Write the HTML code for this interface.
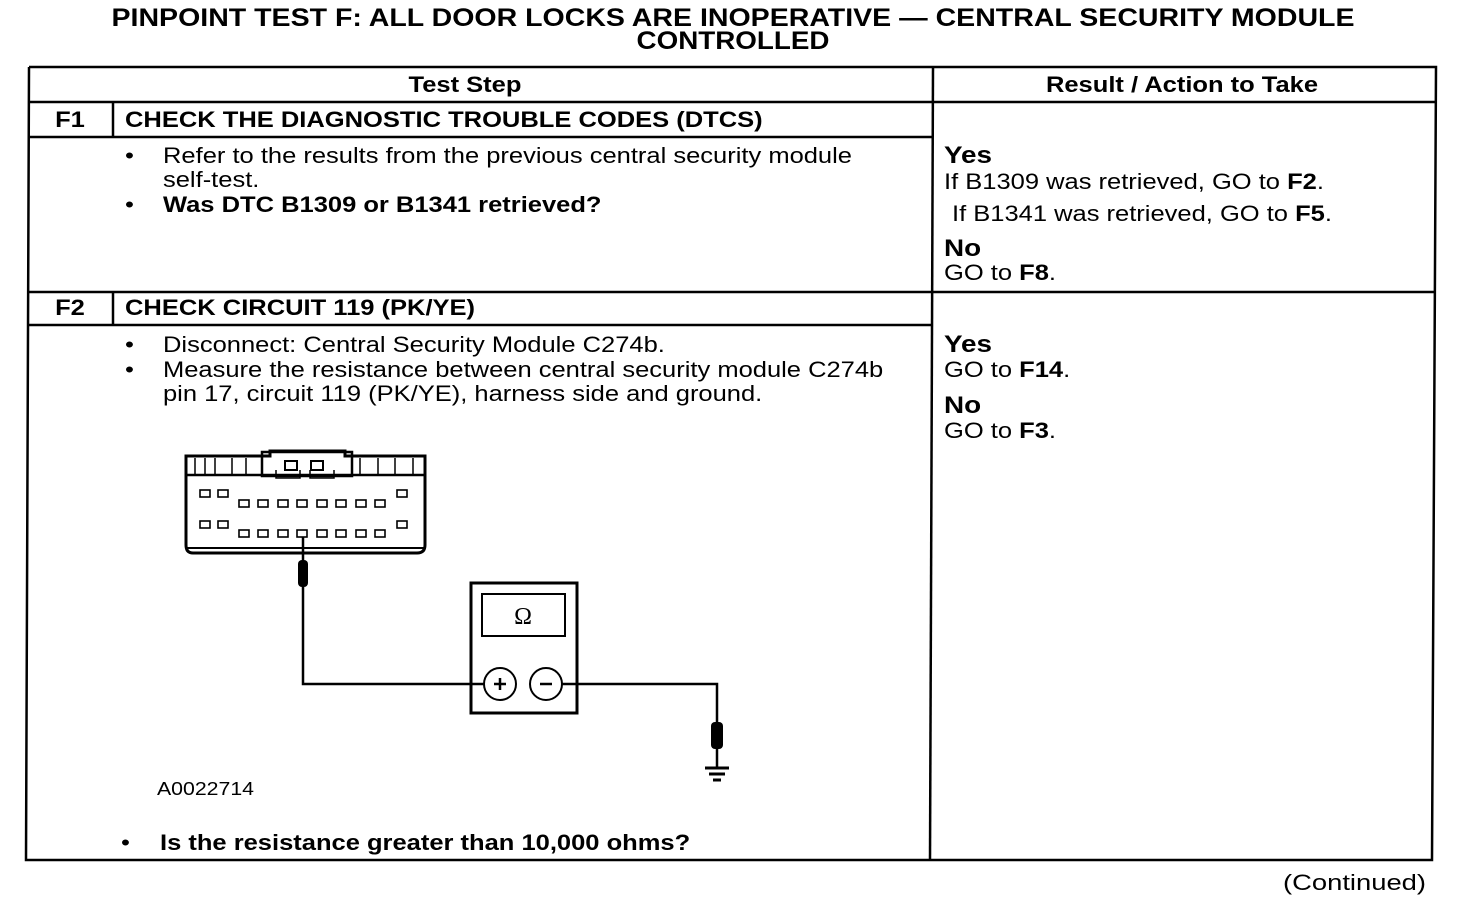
<!DOCTYPE html>
<html><head><meta charset="utf-8"><style>
html,body{margin:0;padding:0;background:#fff;}
svg{display:block;font-family:"Liberation Sans",Arial,sans-serif;}
.b{font-weight:bold;}
</style></head><body>
<svg width="1472" height="910" viewBox="0 0 1472 910" xmlns="http://www.w3.org/2000/svg">
<g fill="#000">
<text x="733" y="26" font-size="25" class="b" text-anchor="middle" textLength="1243" lengthAdjust="spacingAndGlyphs">PINPOINT TEST F: ALL DOOR LOCKS ARE INOPERATIVE — CENTRAL SECURITY MODULE</text>
<text x="733" y="49" font-size="25" class="b" text-anchor="middle" textLength="193" lengthAdjust="spacingAndGlyphs">CONTROLLED</text>
</g>
<g stroke="#000" stroke-width="2.5" fill="none">
<polyline points="29,67 1436,67 1432,860 26,860 29,67"/>
<line x1="29" y1="102" x2="1436" y2="102"/>
<line x1="933" y1="67" x2="930" y2="860"/>
<line x1="29" y1="137" x2="933" y2="137"/>
<line x1="28" y1="292" x2="1434" y2="292"/>
<line x1="28" y1="325" x2="932" y2="325"/>
<line x1="113" y1="102" x2="113" y2="137"/>
<line x1="113" y1="292" x2="113" y2="325"/>
</g>
<g fill="#000" font-size="22" transform="scale(1.16 1)">
<text x="400.86" y="92" class="b" text-anchor="middle">Test Step</text>
<text x="1018.97" y="92" class="b" text-anchor="middle">Result / Action to Take</text>
<text x="60.34" y="127" class="b" text-anchor="middle">F1</text>
<text x="107.76" y="127" class="b">CHECK THE DIAGNOSTIC TROUBLE CODES (DTCS)</text>
<text x="107.76" y="163">•</text>
<text x="140.52" y="163">Refer to the results from the previous central security module</text>
<text x="140.52" y="187">self-test.</text>
<text x="107.76" y="212">•</text>
<text x="140.52" y="212" class="b">Was DTC B1309 or B1341 retrieved?</text>
<text x="813.79" y="163" font-size="24" class="b">Yes</text>
<text x="813.79" y="189">If B1309 was retrieved, GO to <tspan class="b">F2</tspan>.</text>
<text x="820.69" y="221">If B1341 was retrieved, GO to <tspan class="b">F5</tspan>.</text>
<text x="813.79" y="256" font-size="24" class="b">No</text>
<text x="813.79" y="280">GO to <tspan class="b">F8</tspan>.</text>
<text x="60.34" y="315" class="b" text-anchor="middle">F2</text>
<text x="107.76" y="315" class="b">CHECK CIRCUIT 119 (PK/YE)</text>
<text x="107.76" y="352">•</text>
<text x="140.52" y="352">Disconnect: Central Security Module C274b.</text>
<text x="107.76" y="377">•</text>
<text x="140.52" y="377">Measure the resistance between central security module C274b</text>
<text x="140.52" y="401">pin 17, circuit 119 (PK/YE), harness side and ground.</text>
<text x="813.79" y="352" font-size="24" class="b">Yes</text>
<text x="813.79" y="377">GO to <tspan class="b">F14</tspan>.</text>
<text x="813.79" y="413" font-size="24" class="b">No</text>
<text x="813.79" y="438">GO to <tspan class="b">F3</tspan>.</text>
<text x="104.31" y="850">•</text>
<text x="137.93" y="850" class="b">Is the resistance greater than 10,000 ohms?</text>
</g>
<g fill="#000">
<text x="157" y="795" font-size="18" textLength="97" lengthAdjust="spacingAndGlyphs">A0022714</text>
<text x="1283" y="890" font-size="22" textLength="143" lengthAdjust="spacingAndGlyphs">(Continued)</text>
</g>
<!-- connector -->
<g stroke="#000" fill="none" stroke-width="2">
<path d="M186,456 H270 V451 H345 V456 H425 V545 Q425,553 417,553 H193 Q186,553 186,545 Z" stroke-width="3"/>
<line x1="186" y1="475" x2="425" y2="475" stroke-width="2.5"/>
<rect x="262" y="452" width="90" height="24" stroke-width="2.5"/>
<line x1="186" y1="548" x2="425" y2="548"/>
<path d="M276,470 V478 H300 V470 M310,470 V478 H334 V470" stroke-width="1.5"/>
<rect x="285" y="461" width="12" height="9"/><rect x="311" y="461" width="12" height="9"/>
<path d="M195,458 V474 M205,458 V474 M215,458 V474 M232,458 V474 M246,458 V474 M360,458 V474 M378,458 V474 M395,458 V474 M413,458 V474" stroke-width="1.5"/>
</g>
<g stroke="#000" fill="none" stroke-width="1.6">
<rect x="200" y="490" width="10" height="7"/><rect x="218" y="490" width="10" height="7"/>
<rect x="200" y="521" width="10" height="7"/><rect x="218" y="521" width="10" height="7"/>
<rect x="397" y="490" width="10" height="7"/><rect x="397" y="521" width="10" height="7"/>
<rect x="239" y="500" width="10" height="7"/><rect x="258" y="500" width="10" height="7"/><rect x="278" y="500" width="10" height="7"/><rect x="297" y="500" width="10" height="7"/><rect x="317" y="500" width="10" height="7"/><rect x="336" y="500" width="10" height="7"/><rect x="356" y="500" width="10" height="7"/><rect x="375" y="500" width="10" height="7"/>
<rect x="239" y="530" width="10" height="7"/><rect x="258" y="530" width="10" height="7"/><rect x="278" y="530" width="10" height="7"/><rect x="297" y="530" width="10" height="7"/><rect x="317" y="530" width="10" height="7"/><rect x="336" y="530" width="10" height="7"/><rect x="356" y="530" width="10" height="7"/><rect x="375" y="530" width="10" height="7"/>
</g>
<!-- wiring and meter -->
<g stroke="#000" fill="none" stroke-width="2.5">
<line x1="303" y1="537" x2="303" y2="565"/>
<path d="M303,585 V684 H484"/>
<rect x="471" y="583" width="106" height="130" stroke-width="3"/>
<rect x="482" y="594" width="83" height="42" stroke-width="2"/>
<circle cx="500" cy="684" r="16" stroke-width="2"/>
<circle cx="546" cy="684" r="16" stroke-width="2"/>
<path d="M562,684 H717 V730"/>
<line x1="717" y1="745" x2="717" y2="768"/>
<line x1="705" y1="768" x2="729" y2="768" stroke-width="3"/>
<line x1="709" y1="774" x2="725" y2="774" stroke-width="3"/>
<line x1="713" y1="780" x2="721" y2="780" stroke-width="3"/>
<path d="M494,684 H506 M500,678 V690 M540,684 H552" stroke-width="2.5"/>
</g>
<rect x="298" y="560" width="10" height="27" rx="4" fill="#000"/>
<rect x="711" y="722" width="12" height="27" rx="4" fill="#000"/>
<text x="523" y="624" font-size="24" text-anchor="middle" font-family="Liberation Serif,serif">Ω</text>
</svg>
</body></html>
